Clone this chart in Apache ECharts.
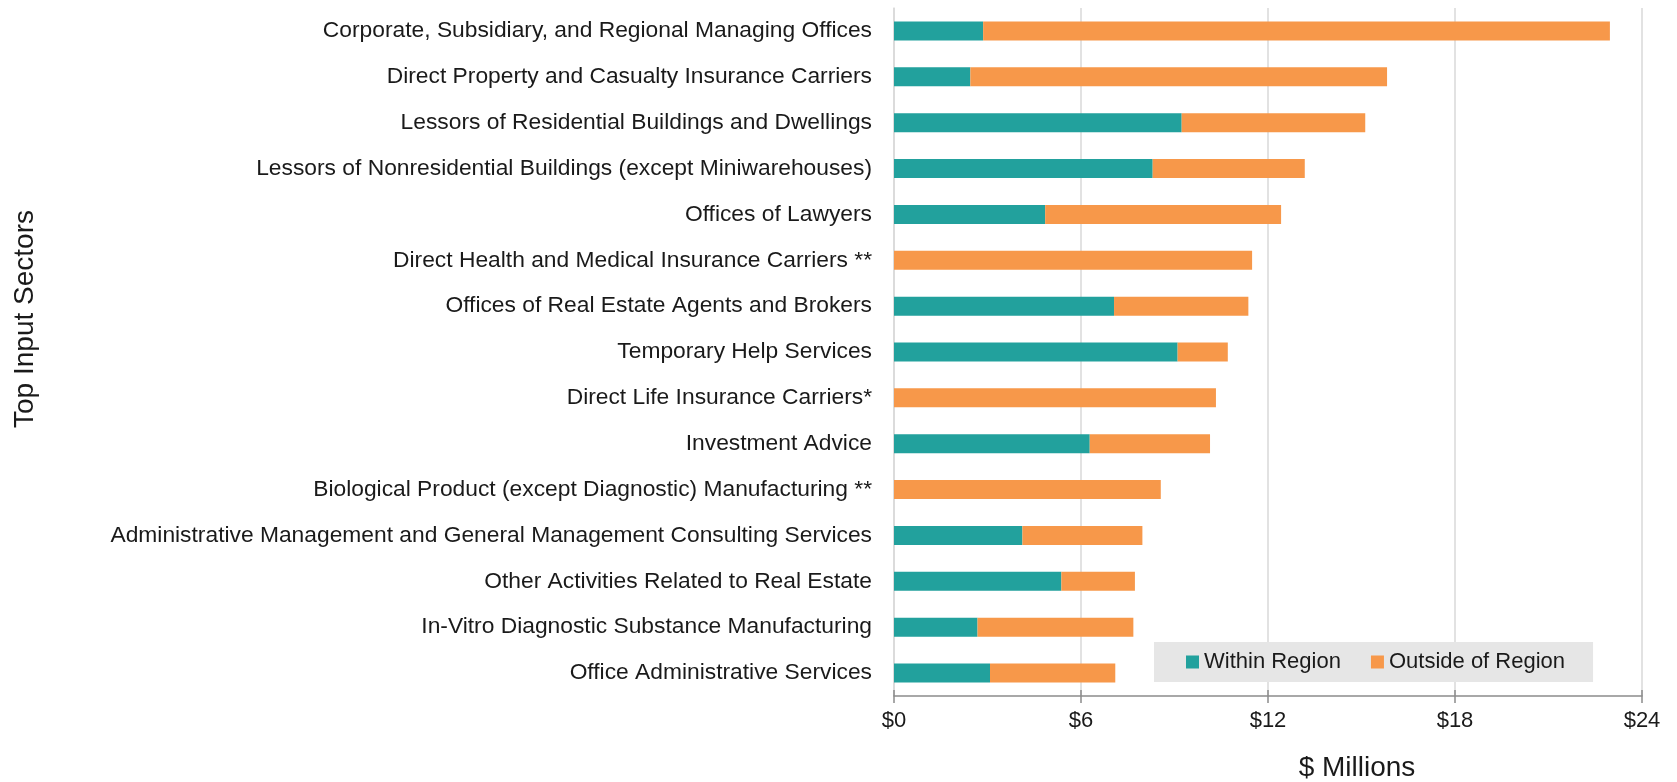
<!DOCTYPE html>
<html>
<head>
<meta charset="utf-8">
<script src="https://cdn.jsdelivr.net/npm/echarts@6/dist/echarts.min.js"></script>
<style>
  html, body { margin: 0; padding: 0; background: #fff; }
  #chart { width: 1677px; height: 782px; }
</style>
</head>
<body>
<div id="chart"></div>
<script>
// sectors, top to bottom
const sectors = [
  'Corporate, Subsidiary, and Regional Managing Offices',
  'Direct Property and Casualty Insurance Carriers',
  'Lessors of Residential Buildings and Dwellings',
  'Lessors of Nonresidential Buildings (except Miniwarehouses)',
  'Offices of Lawyers',
  'Direct Health and Medical Insurance Carriers **',
  'Offices of Real Estate Agents and Brokers',
  'Temporary Help Services',
  'Direct Life Insurance Carriers*',
  'Investment Advice',
  'Biological Product (except Diagnostic) Manufacturing **',
  'Administrative Management and General Management Consulting Services',
  'Other Activities Related to Real Estate',
  'In-Vitro Diagnostic Substance Manufacturing',
  'Office Administrative Services'
];
// $ millions
const withinRegion = [2.86, 2.45, 9.23, 8.30, 4.85, 0, 7.06, 9.10, 0, 6.28, 0, 4.12, 5.37, 2.68, 3.08];
const outsideRegion = [20.11, 13.37, 5.89, 4.88, 7.57, 11.49, 4.31, 1.61, 10.33, 3.86, 8.56, 3.85, 2.36, 5.00, 4.02];
const xTicks = { min: 0, max: 24, interval: 6 };

const FONT = '"Liberation Sans", Arial, sans-serif';
const TEAL = '#22a19d';
const ORANGE = '#f7984a';

const chart = echarts.init(document.getElementById('chart'));
chart.setOption({
  animation: false,
  textStyle: { fontFamily: FONT },
  grid: { left: 894, right: 35, top: 8, bottom: 86 },
  legend: {
    data: ['Within Region', 'Outside of Region'],
    left: 1154,
    top: 642,
    backgroundColor: '#e6e6e6',
    padding: [9, 28, 9, 32],
    itemWidth: 13,
    itemHeight: 13,
    itemGap: 30,
    icon: 'rect',
    textStyle: { fontFamily: FONT, fontSize: 22, color: '#1a1a1a' }
  },
  xAxis: [
    {
      type: 'value',
      min: xTicks.min, max: xTicks.max, interval: xTicks.interval,
      axisLine: { show: true, lineStyle: { color: '#8c8c8c', width: 1.5 } },
      axisTick: { show: true, length: 7, lineStyle: { color: '#8c8c8c', width: 1.5 } },
      axisLabel: {
        margin: 14, fontSize: 22, color: '#1a1a1a', fontFamily: FONT,
        formatter: v => '$' + v
      },
      splitLine: { show: true, lineStyle: { color: '#d9d9d9', width: 1.5 } }
    },
    {
      type: 'value', position: 'bottom',
      min: xTicks.min, max: xTicks.max, interval: xTicks.interval,
      axisLine: { show: false },
      axisTick: { show: true, inside: true, length: 6, lineStyle: { color: '#8c8c8c', width: 1.5 } },
      axisLabel: { show: false },
      splitLine: { show: false }
    }
  ],
  yAxis: {
    type: 'category',
    data: sectors,
    inverse: true,
    axisLine: { show: true, lineStyle: { color: '#d9d9d9', width: 1.5 } },
    axisTick: { show: false },
    axisLabel: { margin: 22, fontSize: 22.8, color: '#1a1a1a', fontFamily: FONT }
  },
  series: [
    {
      name: 'Within Region', type: 'bar', stack: 'total', barWidth: 19,
      itemStyle: { color: TEAL },
      data: withinRegion
    },
    {
      name: 'Outside of Region', type: 'bar', stack: 'total', barWidth: 19,
      itemStyle: { color: ORANGE },
      data: outsideRegion
    }
  ],
  graphic: [
    {
      type: 'text', x: 25, y: 319, rotation: Math.PI / 2,
      style: { text: 'Top Input Sectors', fontSize: 28, fontFamily: FONT, fill: '#1a1a1a', align: 'center', verticalAlign: 'middle' }
    },
    {
      type: 'text', x: 1357, y: 768,
      style: { text: '$ Millions', fontSize: 28, fontFamily: FONT, fill: '#1a1a1a', align: 'center', verticalAlign: 'middle' }
    }
  ]
});
</script>
</body>
</html>
